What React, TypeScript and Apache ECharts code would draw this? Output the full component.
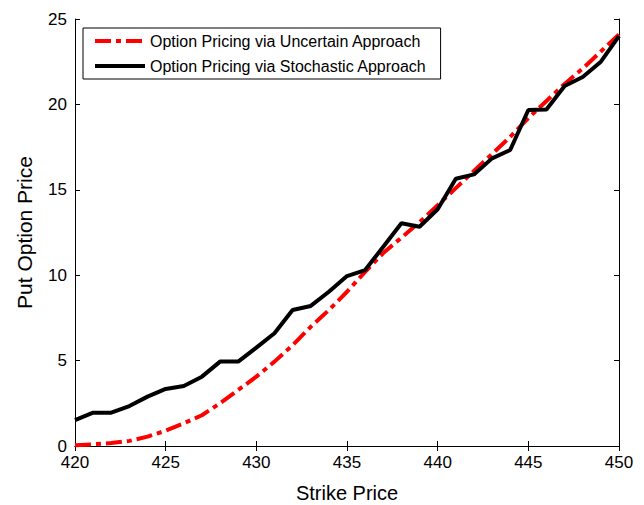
import React, { useEffect, useRef } from "react";
import * as echarts from "echarts";

const strikes = [420, 421, 422, 423, 424, 425, 426, 427, 428, 429, 430, 431, 432, 433, 434, 435, 436, 437, 438, 439, 440, 441, 442, 443, 444, 445, 446, 447, 448, 449, 450];
const uncertain = [0.05, 0.1, 0.17, 0.3, 0.55, 0.9, 1.33, 1.8, 2.5, 3.28, 4.06, 4.94, 5.9, 6.98, 7.96, 9.03, 10.2, 11.3, 12.2, 13.1, 14.1, 15.1, 16.1, 17.1, 18.1, 19.2, 20.2, 21.2, 22.1, 23.1, 24.1];
const stochastic = [1.52, 1.95, 1.95, 2.34, 2.89, 3.34, 3.51, 4.06, 4.94, 4.94, 5.76, 6.6, 7.96, 8.2, 9.03, 9.95, 10.3, 11.67, 13.04, 12.84, 13.86, 15.65, 15.9, 16.84, 17.33, 19.67, 19.7, 21.08, 21.6, 22.5, 24.0];
const seriesNames = ["Option Pricing via Uncertain Approach", "Option Pricing via Stochastic Approach"];

export default function App() {
  const ref = useRef<HTMLDivElement>(null);
  useEffect(() => {
    const chart = echarts.init(ref.current!, null, { renderer: "svg" });
    const font = "Liberation Sans, Arial, sans-serif";
    const axisCommon = {
      axisLine: { show: true, lineStyle: { color: "#000", width: 1 } },
      axisTick: { show: true, inside: true, length: 5, lineStyle: { color: "#000" } },
      splitLine: { show: false },
    };
    chart.setOption({
      animation: false,
      backgroundColor: "#fff",
      grid: { left: 75, right: 25, top: 19, bottom: 59, containLabel: false, outerBoundsMode: "none" },
      legend: {
        orient: "vertical",
        left: 83,
        top: 28,
        data: seriesNames,
        borderColor: "#000",
        borderWidth: 1,
        padding: [5, 14, 5, 10],
        itemWidth: 50,
        itemHeight: 14,
        itemGap: 9,
        itemStyle: { opacity: 0 },
        lineStyle: { width: 4 },
        textStyle: { fontFamily: font, fontSize: 16, color: "#000" },
        backgroundColor: "#fff",
      },
      xAxis: [
        {
          type: "value",
          min: 420,
          max: 450,
          interval: 5,
          ...axisCommon,
          axisLabel: { color: "#000", fontFamily: font, fontSize: 17, margin: 8 },
          name: "Strike Price",
          nameLocation: "middle",
          nameGap: 37,
          nameTextStyle: { color: "#000", fontFamily: font, fontSize: 20 },
        },
        {
          type: "value",
          position: "top",
          min: 420,
          max: 450,
          interval: 5,
          ...axisCommon,
          axisLabel: { show: false },
        },
      ],
      yAxis: [
        {
          type: "value",
          min: 0,
          max: 25,
          interval: 5,
          ...axisCommon,
          axisLabel: { color: "#000", fontFamily: font, fontSize: 17, margin: 8 },
          name: "Put Option Price",
          nameLocation: "middle",
          nameGap: 40,
          nameTextStyle: { color: "#000", fontFamily: font, fontSize: 21 },
        },
        {
          type: "value",
          position: "right",
          min: 0,
          max: 25,
          interval: 5,
          ...axisCommon,
          axisLabel: { show: false },
        },
      ],
      series: [
        {
          name: seriesNames[0],
          type: "line",
          data: strikes.map((s, i) => [s, uncertain[i]]),
          showSymbol: false,
          symbol: "none",
          z: 2,
          lineStyle: { color: "#ff0000", width: 4, type: [16, 5, 5, 5] },
          itemStyle: { color: "#ff0000" },
        },
        {
          name: seriesNames[1],
          type: "line",
          data: strikes.map((s, i) => [s, stochastic[i]]),
          showSymbol: false,
          symbol: "none",
          z: 3,
          lineStyle: { color: "#000", width: 4 },
          itemStyle: { color: "#000" },
        },
      ],
    });
    return () => chart.dispose();
  }, []);
  return <div ref={ref} style={{ width: 644, height: 505, position: "absolute", left: 0, top: 0 }} />;
}
